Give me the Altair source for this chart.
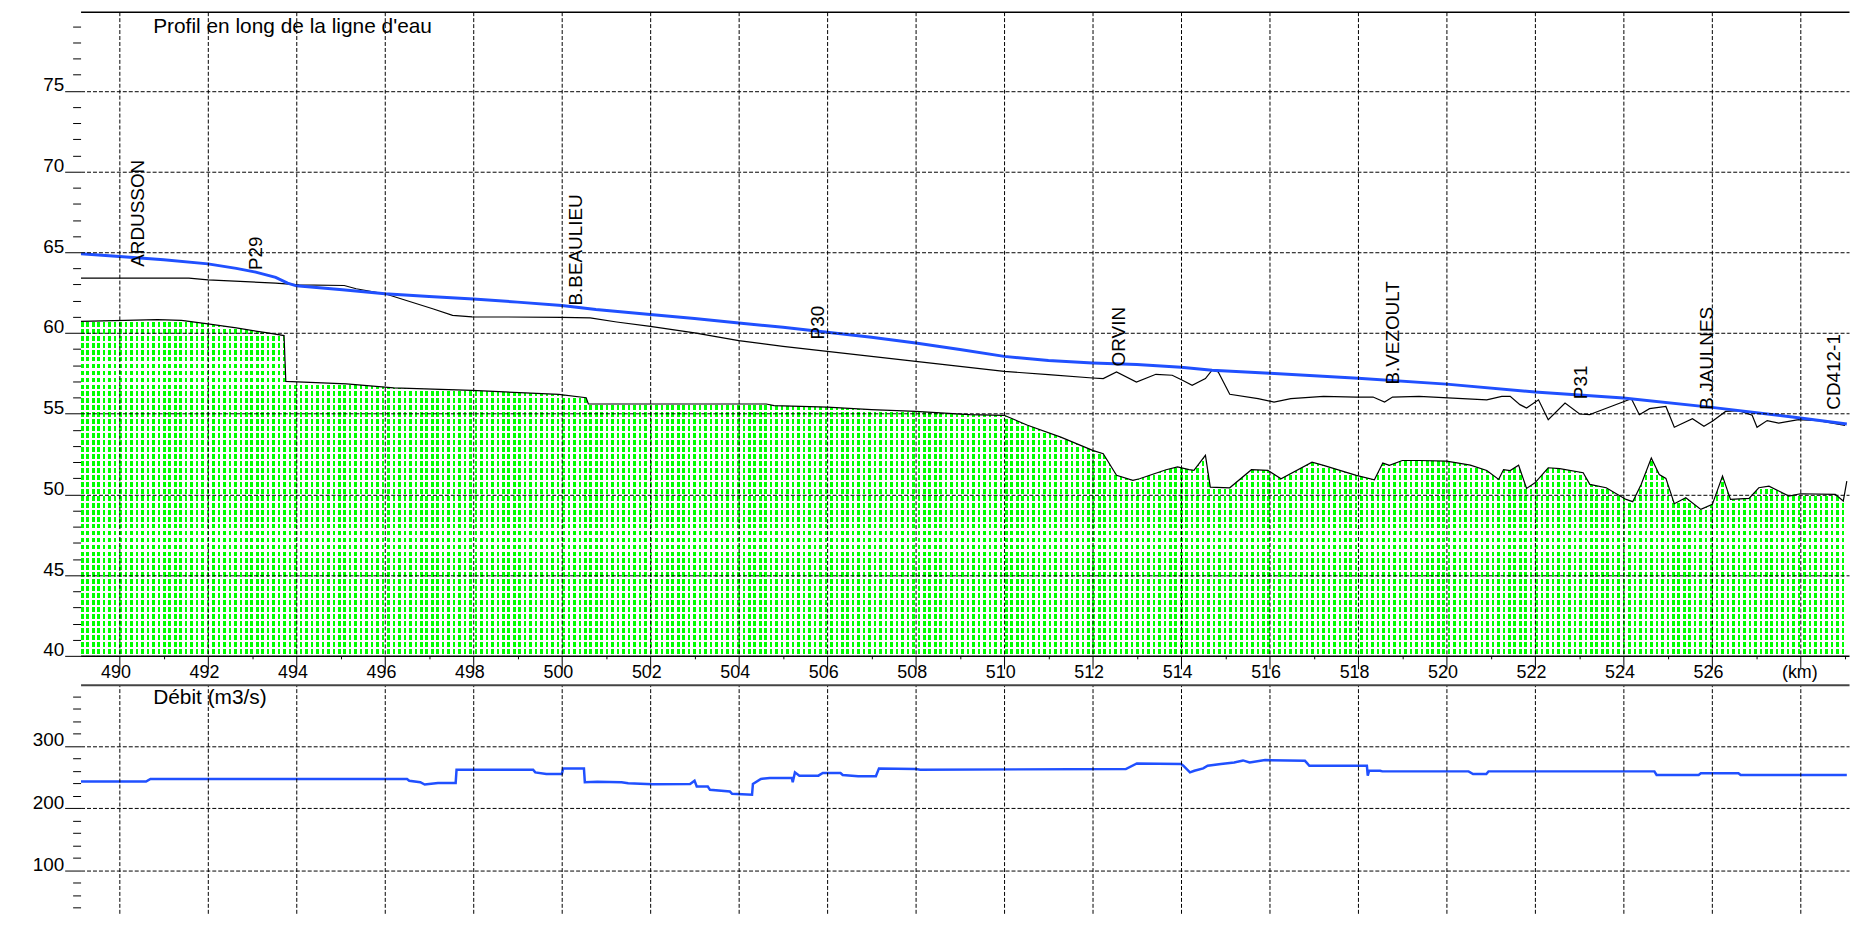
import altair as alt
import pandas as pd

# ---------------- data ----------------
# water surface line (ligne d'eau)
water_km = [489.13, 490, 491, 492, 492.64, 493.08, 493.53, 493.8, 494, 495.04, 496, 497, 498, 499,
            500, 500.77, 502, 503, 504, 505, 506, 507, 508, 509, 510, 511, 512, 513, 514, 514.7,
            516, 518, 520, 522, 524, 526, 528, 529.05]
water_z = [64.9, 64.73, 64.53, 64.28, 64.0, 63.77, 63.44, 63.09, 62.92, 62.67, 62.43, 62.26, 62.1, 61.91,
           61.7, 61.45, 61.14, 60.89, 60.62, 60.35, 60.04, 59.73, 59.38, 58.97, 58.55, 58.29, 58.14, 58.04,
           57.87, 57.69, 57.5, 57.2, 56.83, 56.34, 55.97, 55.39, 54.73, 54.36]

# bank line (black thin)
bank_km = [489.13, 491.57, 492, 493.53, 494.06, 495.08, 495.35, 496.02, 497.08, 497.53, 497.97, 500,
           500.64, 501.24, 502, 503, 504, 505, 506, 507, 508, 509, 510, 511, 512, 512.24, 512.54,
           512.99, 513.43, 513.8, 514.03, 514.25, 514.55, 514.7, 514.84, 515.1, 515.74, 516.1, 516.48,
           517.22, 517.96, 518.34, 518.6, 518.78, 519.38, 520.91, 521.25, 521.44, 521.66, 521.81,
           522.08, 522.3, 522.68, 523.01, 523.24, 523.39, 524.06, 524.18, 524.36, 524.59, 524.96,
           525.15, 525.56, 525.82, 526.01, 526.31, 526.61, 526.91, 527.02, 527.25, 527.51, 527.96,
           528.41, 529.01]
bank_z = [63.4, 63.4, 63.29, 63.09, 62.98, 62.94, 62.74, 62.41, 61.5, 61.09, 61.0, 60.97,
          60.93, 60.68, 60.41, 60.0, 59.52, 59.17, 58.86, 58.55, 58.24, 57.93, 57.62, 57.42, 57.21, 57.17,
          57.58, 56.96, 57.44, 57.38, 57.07, 56.76, 57.17, 57.69, 57.58, 56.2, 55.93, 55.72, 55.93,
          56.07, 56.03, 56.03, 55.72, 56.03, 56.07, 55.86, 56.07, 56.07, 55.56, 55.35,
          55.86, 54.63, 55.66, 54.98, 54.94, 55.1, 55.8, 55.93, 54.94, 55.31, 55.45,
          54.16, 54.69, 54.22, 54.53, 55.14, 55.19, 54.9, 54.16, 54.57, 54.42, 54.63,
          54.57, 54.28]

# river bed (fond)
bed_km = [489.13, 490.86, 491.4, 492, 492.64, 493.35, 493.72, 493.76, 495.13, 496.2, 497.97, 499.93,
          500.55, 500.6, 504.62, 504.8, 506, 507, 508, 509.22, 510, 510.53, 511.28, 512, 512.24,
          512.54, 512.91, 513.06, 513.66, 513.92, 514.18, 514.29, 514.55, 514.66, 515.1, 515.59,
          515.96, 516.26, 516.96, 517.22, 517.96, 518.37, 518.56, 518.71, 519.0, 519.38, 520,
          520.54, 520.91, 521.18, 521.29, 521.44, 521.63, 521.81, 522.0, 522.3, 522.56, 523.09,
          523.24, 523.61, 524.06, 524.21, 524.4, 524.63, 524.81, 524.96, 525.15, 525.41, 525.75,
          526.01, 526.24, 526.42, 526.84, 527.06, 527.29, 527.74, 528.0, 528.79, 528.97, 529.05]
bed_z = [60.72, 60.82, 60.78, 60.56, 60.31, 60.0, 59.84, 57.0, 56.85, 56.6, 56.44, 56.19,
         55.99, 55.6, 55.6, 55.5, 55.41, 55.25, 55.14, 54.94, 54.9, 54.28, 53.55, 52.73, 52.52,
         51.18, 50.87, 50.97, 51.53, 51.7, 51.53, 51.49, 52.42, 50.45, 50.41, 51.53,
         51.49, 50.97, 52.0, 51.8, 51.18, 50.9, 51.94, 51.8, 52.1, 52.1, 52.06,
         51.81, 51.48, 50.93, 51.54, 51.48, 51.81, 50.37, 50.72, 51.65, 51.6, 51.34,
         50.62, 50.41, 49.69, 49.55, 50.62, 52.26, 51.23, 50.99, 49.42, 49.79, 49.07,
         49.38, 51.13, 49.69, 49.75, 50.41, 50.51, 49.9, 50.04, 50.0, 49.59, 50.82]

# discharge (Débit, m3/s)
q_km = [489.13, 490.6, 490.7, 496.5, 496.55, 496.8, 496.9, 497.2, 497.6, 497.62, 499.35, 499.4,
        499.65, 500.0, 500.03, 500.5, 500.52, 500.8, 501.35, 501.5, 502.05, 502.9, 503.0, 503.05,
        503.3, 503.35, 503.8, 503.85, 504.3, 504.32, 504.5, 504.7, 505.2, 505.22, 505.27, 505.37,
        505.8, 505.9, 506.3, 506.35, 506.7, 507.1, 507.17, 508.0, 508.1, 512.75, 513.0, 514.0,
        514.05, 514.2, 514.3, 514.5, 514.6, 514.9, 515.2, 515.4, 515.55, 515.9, 516.8, 516.9,
        518.2, 518.22, 518.25, 518.5, 518.55, 520.5, 520.6, 520.9, 520.95, 524.7, 524.75, 525.7,
        525.75, 526.6, 526.65, 529.05]
q_val = [242.6, 242.6, 246.8, 246.8, 244.0, 241.5, 237.8, 240.4, 240.4, 261.7, 261.7, 257.4,
         254.8, 254.8, 263.8, 263.8, 241.5, 242.5, 241.5, 240.0, 238.3, 238.8, 244.1, 234.6,
         234.6, 229.3, 226.6, 222.9, 221.3, 238.8, 246.8, 248.4, 248.4, 241.5, 257.4, 252.1,
         252.1, 256.4, 256.4, 253.2, 251.1, 251.1, 263.8, 262.8, 261.7, 262.8, 271.8, 270.7,
         268.1, 257.4, 260.0, 263.8, 268.1, 270.7, 273.4, 276.6, 273.4, 277.1, 276.0, 268.1,
         268.1, 252.0, 260.0, 260.0, 259.0, 259.0, 254.8, 254.8, 259.0, 259.0, 253.2, 253.2,
         255.9, 255.9, 253.2, 253.2]

# structure / profile labels
lab_names = ["ARDUSSON", "P29", "B.BEAULIEU", "P30", "ORVIN", "B.VEZOULT", "P31", "B.JAULNES", "CD412-1"]
lab_km = [490.42, 493.08, 500.33, 505.8, 512.6, 518.8, 523.05, 525.9, 528.75]
lab_z = [64.1, 63.9, 61.7, 59.6, 57.93, 56.8, 55.9, 55.25, 55.25]

x_tick_values = [v / 2 for v in range(980, 1059)]   # 490 .. 529 every 0.5 km
z_tick_values = list(range(40, 80))
q_tick_values = list(range(40, 400, 20))

# ---------------- styling ----------------
FONT = "Liberation Sans"
BLUE = "#2050ff"
LIME = "#00ff00"
W = 1779
H1 = 648
H2 = 230
XDOM = [489.12, 529.1]

water = pd.DataFrame({"km": water_km, "z": water_z})
bank = pd.DataFrame({"km": bank_km, "z": bank_z})
bed = pd.DataFrame({"km": bed_km, "z": bed_z})
qdf = pd.DataFrame({"km": q_km, "q": q_val})
labs = pd.DataFrame({"km": lab_km, "z": lab_z, "name": lab_names})

xscale = alt.Scale(domain=XDOM, nice=False, zero=False)
zscale = alt.Scale(domain=[40, 79.9], nice=False, zero=False)
qscale = alt.Scale(domain=[30.8, 398.4], nice=False, zero=False)


def stripe_stops(period, on, c_on, c_off):
    stops = []
    a = 0.0
    while a < 1.0:
        b = min(a + on, 1.0)
        c = min(a + period, 1.0)
        stops += [
            {"offset": round(a, 6), "color": c_on},
            {"offset": round(b, 6), "color": c_on},
            {"offset": round(b, 6), "color": c_off},
            {"offset": round(c, 6), "color": c_off},
        ]
        a += period
    return stops


bed_w = (max(bed_km) - min(bed_km)) * W / (XDOM[1] - XDOM[0])
bed_h = (max(bed_z) - 40) * H1 / (79.9 - 40)
vert_grad = {"gradient": "linear", "x1": 0, "y1": 0, "x2": 1, "y2": 0,
             "stops": stripe_stops(5.5 / bed_w, 2.6 / bed_w, LIME, "#ffffff")}
dash_grad = {"gradient": "linear", "x1": 0, "y1": 0, "x2": 0, "y2": 1,
             "stops": stripe_stops(7.0 / bed_h, 2.2 / bed_h, "rgba(255,255,255,1)", "rgba(255,255,255,0)")}

x_axis_upper = alt.Axis(
    orient="bottom", values=x_tick_values, title=None, format="d",
    domain=True, domainColor="black", domainWidth=1.5,
    ticks=True, tickColor="black",
    tickSize={"condition": {"test": "datum.value % 2 === 0", "value": 13}, "value": 3},
    labelExpr="datum.value === 528 ? '(km)' : (datum.value % 2 === 0 ? datum.label : '')",
    labelAlign="left", labelOffset=-19, labelPadding=-5, labelBaseline="top",
    labelFont=FONT, labelFontSize=18, labelColor="black", labelOverlap=False, labelFlush=False,
    grid=True, gridColor="black", gridDash=[4, 2], gridWidth=1,
    gridOpacity={"condition": {"test": "datum.value % 2 === 0", "value": 1}, "value": 0},
    zindex=1,
)
x_axis_top = alt.Axis(
    orient="top", title=None, domain=True, domainColor="black", domainWidth=1.5,
    ticks=False, labels=False, grid=False,
)
x_axis_lower = alt.Axis(
    orient="top", values=x_tick_values, title=None,
    domain=True, domainColor="#444444", domainWidth=2,
    ticks=False, labels=False,
    grid=True, gridColor="black", gridDash=[4, 2], gridWidth=1,
    gridOpacity={"condition": {"test": "datum.value % 2 === 0", "value": 1}, "value": 0},
    zindex=1,
)
z_axis = alt.Axis(
    values=z_tick_values, title=None, domain=False, tickColor="black", format="d",
    tickSize={"condition": {"test": "datum.value % 5 === 0", "value": 16}, "value": 8},
    labelExpr="datum.value % 5 === 0 ? datum.label : ''",
    labelBaseline="alphabetic", labelPadding=1, labelFont=FONT, labelFontSize=19,
    labelColor="black", labelOverlap=False, labelFlush=False,
    grid=True, gridColor="black", gridDash=[4, 2], gridWidth=1,
    gridOpacity={"condition": {"test": "datum.value % 5 === 0 && datum.value > 40", "value": 1}, "value": 0},
    zindex=1,
)
q_axis = alt.Axis(
    values=q_tick_values, title=None, domain=False, tickColor="black", format="d",
    tickSize={"condition": {"test": "datum.value % 100 === 0", "value": 16}, "value": 8},
    labelExpr="datum.value % 100 === 0 ? datum.label : ''",
    labelBaseline="alphabetic", labelPadding=1, labelFont=FONT, labelFontSize=19,
    labelColor="black", labelOverlap=False, labelFlush=False,
    grid=True, gridColor="black", gridDash=[4, 2], gridWidth=1,
    gridOpacity={"condition": {"test": "datum.value % 100 === 0", "value": 1}, "value": 0},
    zindex=1,
)

Y = alt.Y("z:Q", scale=zscale, axis=z_axis)

bed_fill = alt.Chart(bed).mark_area(fill=vert_grad, opacity=1, interpolate="linear").encode(
    x=alt.X("km:Q", scale=xscale, axis=x_axis_upper),
    y=Y,
    y2=alt.datum(40),
)
bed_dash = alt.Chart(bed).mark_area(fill=dash_grad, opacity=1, interpolate="linear").encode(
    x=alt.X("km:Q", scale=xscale, axis=None),
    y=Y,
    y2=alt.datum(40),
)
bed_line = alt.Chart(bed).mark_line(color="black", strokeWidth=1.2).encode(
    x=alt.X("km:Q", scale=xscale, axis=None),
    y=Y,
)
bank_line = alt.Chart(bank).mark_line(color="black", strokeWidth=1.2).encode(
    x=alt.X("km:Q", scale=xscale, axis=None),
    y=Y,
)
water_line = alt.Chart(water).mark_line(color=BLUE, strokeWidth=3).encode(
    x=alt.X("km:Q", scale=xscale, axis=None),
    y=Y,
)
labels = alt.Chart(labs).mark_text(
    angle=270, align="left", baseline="middle", font=FONT, fontSize=19, color="black"
).encode(
    x=alt.X("km:Q", scale=xscale, axis=x_axis_top),
    y=Y,
    text="name:N",
)

upper = alt.layer(bed_fill, bed_dash, bed_line, bank_line, water_line, labels).resolve_axis(
    x="independent"
).properties(
    width=W, height=H1,
    title=alt.TitleParams(
        text="Profil en long de la ligne d'eau", orient="top", anchor="start", frame="group",
        font=FONT, fontSize=21, fontWeight="normal", color="black", baseline="top",
        offset=0, dx=73, dy=26,
    ),
)

lower = alt.Chart(qdf).mark_line(color=BLUE, strokeWidth=2.5).encode(
    x=alt.X("km:Q", scale=xscale, axis=x_axis_lower),
    y=alt.Y("q:Q", scale=qscale, axis=q_axis),
).properties(
    width=W, height=H2,
    title=alt.TitleParams(
        text="Débit (m3/s)", orient="top", anchor="start", frame="group",
        font=FONT, fontSize=21, fontWeight="normal", color="black", baseline="top",
        offset=0, dx=73, dy=27,
    ),
)

chart = alt.vconcat(upper, lower, spacing=29, bounds="flush").properties(
    padding={"left": 24, "top": 0, "right": 0, "bottom": 0},
    background="white",
).configure_view(stroke=None)

chart.save("out.html", embed_options={"renderer": "svg", "actions": False})
